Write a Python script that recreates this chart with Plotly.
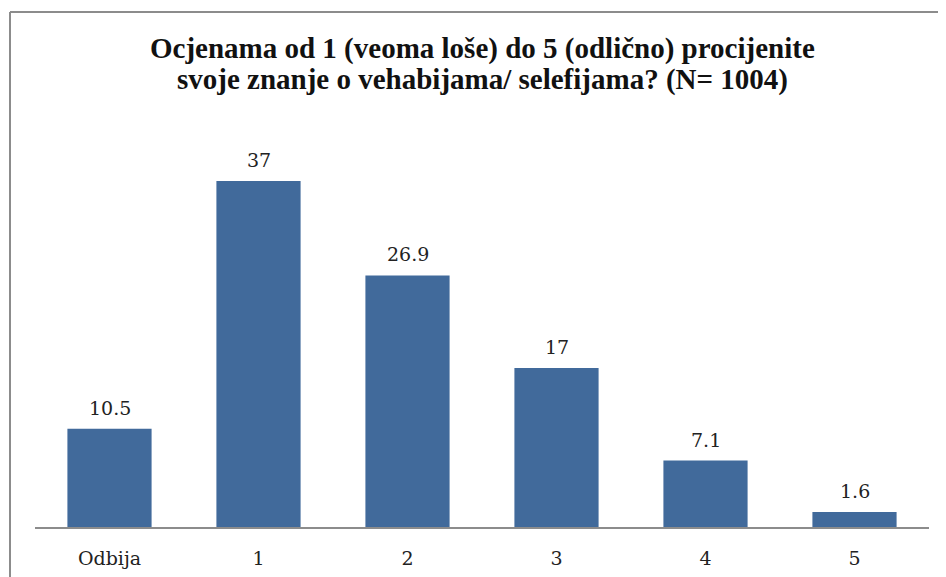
import plotly.graph_objects as go

categories = ["Odbija", "1", "2", "3", "4", "5"]
values = [10.5, 37, 26.9, 17, 7.1, 1.6]
value_labels = ["10.5", "37", "26.9", "17", "7.1", "1.6"]
title_lines = ["Ocjenama od 1 (veoma loše) do 5 (odlično) procijenite",
               "svoje znanje o vehabijama/ selefijama? (N= 1004)"]

W, H = 946, 577
ml, mr, mt, mb = 27, 25, 145, 58
pw = W - ml - mr
ph = H - mt - mb

SERIF = "DejaVu Serif, serif"
TSERIF = "Liberation Serif, serif"

fig = go.Figure(go.Bar(
    x=categories, y=values,
    marker=dict(color="#416A9B", line=dict(width=0)),
    width=0.565,
    hoverinfo="skip",
))

for c, v, t in zip(categories, values, value_labels):
    fig.add_annotation(x=c, y=v, text=t, showarrow=False, yanchor="bottom",
                       yshift=8, font=dict(family=SERIF, size=19, color="#222222"))

for i, line in enumerate(title_lines):
    fy = 40 + 32 * i
    fig.add_annotation(xref="paper", yref="paper", x=0.5, y=1 + (mt - fy) / ph,
                       text="<b>%s</b>" % line, showarrow=False, yanchor="middle",
                       xanchor="center",
                       font=dict(family=TSERIF, size=29, color="#111111"))

fig.update_layout(
    width=W, height=H,
    margin=dict(l=ml, r=mr, t=mt, b=mb),
    paper_bgcolor="white", plot_bgcolor="white",
    showlegend=False,
    xaxis=dict(
        showline=True, linecolor="#8c8c8c", linewidth=2,
        ticks="", showgrid=False, zeroline=False,
        tickfont=dict(family=SERIF, size=19, color="#222222"),
        ticklabelstandoff=13,
    ),
    yaxis=dict(range=[0, 40], visible=False, showgrid=False, zeroline=False),
    bargap=0.435,
)

# outer chart border (extends beyond the captured frame on right/bottom)
x0 = (2 - ml) / pw
y1 = 1 + (mt - 4) / ph
fig.add_shape(type="line", xref="paper", yref="paper", x0=x0, x1=x0, y0=-(mb + 20) / ph, y1=y1,
              line=dict(color="#8c8c8c", width=2))
fig.add_shape(type="line", xref="paper", yref="paper", x0=x0, x1=1 + (mr + 20) / pw, y0=y1, y1=y1,
              line=dict(color="#8c8c8c", width=2))

fig.write_html("out.html")
